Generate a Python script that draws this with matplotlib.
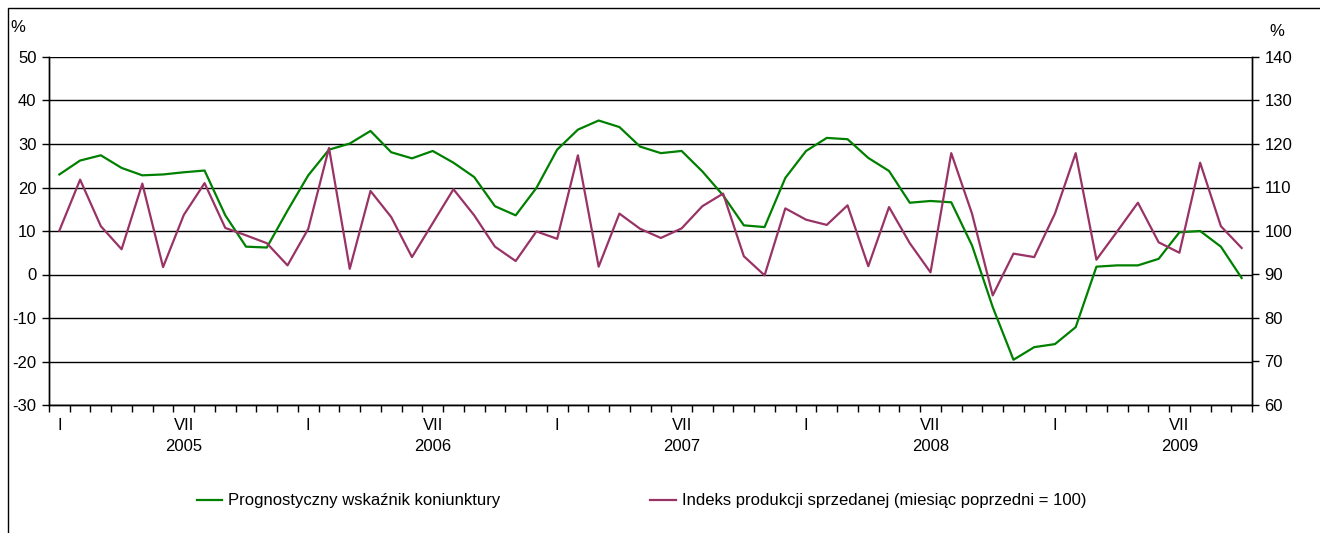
import matplotlib
matplotlib.use('Agg')
import matplotlib.pyplot as plt
import matplotlib.transforms as mtransforms
from matplotlib.patches import Rectangle
import numpy as np

plt.rcParams['font.family'] = ['Liberation Sans', 'DejaVu Sans']

# monthly data, I 2005 - X 2009
years = [2005, 2006, 2007, 2008, 2009]
forecast = [23.0, 26.2, 27.4, 24.5, 22.8, 23.0, 23.5, 23.9, 13.6, 6.4, 6.2, 14.7,
            22.8, 28.7, 30.1, 33.0, 28.1, 26.7, 28.4, 25.7, 22.4, 15.7, 13.6, 19.9,
            28.7, 33.3, 35.4, 33.9, 29.4, 27.9, 28.4, 23.7, 18.2, 11.3, 10.9, 22.2,
            28.4, 31.4, 31.1, 26.8, 23.8, 16.5, 16.9, 16.6, 6.7, -7.5, -19.6, -16.7,
            -16.0, -12.1, 1.8, 2.1, 2.1, 3.6, 9.7, 10.0, 6.4, -0.8]
production = [100.1, 111.8, 101.1, 95.8, 110.9, 91.7, 103.7, 111.0, 100.7, 99.0, 97.2, 92.1,
              100.5, 119.1, 91.3, 109.2, 103.2, 94.0, 101.8, 109.6, 103.6, 96.4, 93.1, 99.9,
              98.2, 117.4, 91.8, 104.0, 100.5, 98.4, 100.6, 105.7, 108.6, 94.2, 89.8, 105.2,
              102.6, 101.4, 105.9, 91.9, 105.5, 97.2, 90.5, 117.9, 104.0, 85.2, 94.8, 94.0,
              104.0, 117.9, 93.4, 99.9, 106.5, 97.4, 95.0, 115.7, 101.1, 96.1]
month_labels = {0: 'I', 6: 'VII'}
left_ticks = [50, 40, 30, 20, 10, 0, -10, -20, -30]
right_ticks = [140, 130, 120, 110, 100, 90, 80, 70, 60]

green = '#008000'
plum = '#993366'
fs = 12

fig = plt.figure(figsize=(13.2, 5.33), dpi=100)
ax = fig.add_axes([49 / 1320, 1 - 405 / 533, (1252 - 49) / 1320, (405 - 57) / 533])
ax2 = ax.twinx()

x = np.arange(len(forecast))
n = len(x)

# gridlines
for v in left_ticks:
    ax.axhline(v, color='black', lw=1.0, zorder=1)

ax.plot(x, forecast, color=green, lw=1.6, zorder=3)
ax2.plot(x, production, color=plum, lw=1.6, zorder=3)

ax.set_ylim(-30, 50)
ax2.set_ylim(60, 140)
ax.set_xlim(-0.5, n - 0.5)

ax.set_yticks(left_ticks)
ax.set_yticklabels([str(v) for v in left_ticks], fontsize=fs)
ax2.set_yticks(right_ticks)
ax2.set_yticklabels([str(v) for v in right_ticks], fontsize=fs)

# x ticks at month boundaries, labels on minor ticks
ax.set_xticks(np.arange(n + 1) - 0.5)
ax.set_xticklabels([])
lab_pos = [i for i in range(n) if i % 12 in month_labels]
ax.set_xticks(lab_pos, minor=True)
ax.set_xticklabels([month_labels[i % 12] for i in lab_pos], minor=True, fontsize=fs)
ax.tick_params(axis='x', which='minor', length=0, pad=9)
ax.tick_params(axis='x', which='major', direction='out', length=5, width=1)
ax.tick_params(axis='y', direction='out', length=5, width=1, pad=4)
ax2.tick_params(axis='y', direction='out', length=5, width=1, pad=4)

trans = mtransforms.blended_transform_factory(ax.transData, ax.transAxes)
for k, yr in enumerate(years):
    ax.text(12 * k + 6, -0.118, str(yr), transform=trans, ha='center', va='center', fontsize=fs)

for a in (ax, ax2):
    a.spines['top'].set_visible(False)
    for s in ('left', 'right', 'bottom'):
        a.spines[s].set_linewidth(1.0)

fig.text(18 / 1320, 1 - 27 / 533, '%', fontsize=fs, ha='center', va='center')
fig.text(1277 / 1320, 1 - 32 / 533, '%', fontsize=fs, ha='center', va='center')

# legend drawn manually in figure coords
ly = 1 - 500 / 533
fig.add_artist(plt.Line2D([197 / 1320, 222 / 1320], [ly, ly], color=green, lw=1.6))
fig.text(228 / 1320, ly, 'Prognostyczny wskaźnik koniunktury', fontsize=fs, va='center')
fig.add_artist(plt.Line2D([650 / 1320, 676 / 1320], [ly, ly], color=plum, lw=1.6))
fig.text(682 / 1320, ly, 'Indeks produkcji sprzedanej (miesiąc poprzedni = 100)', fontsize=fs, va='center')

# outer frame
fig.add_artist(Rectangle((8 / 1320, -0.1), 1.2, 1.1 - 8 / 533, transform=fig.transFigure,
                         fill=False, edgecolor='black', lw=1.0))

fig.savefig('out.png', dpi=100)
